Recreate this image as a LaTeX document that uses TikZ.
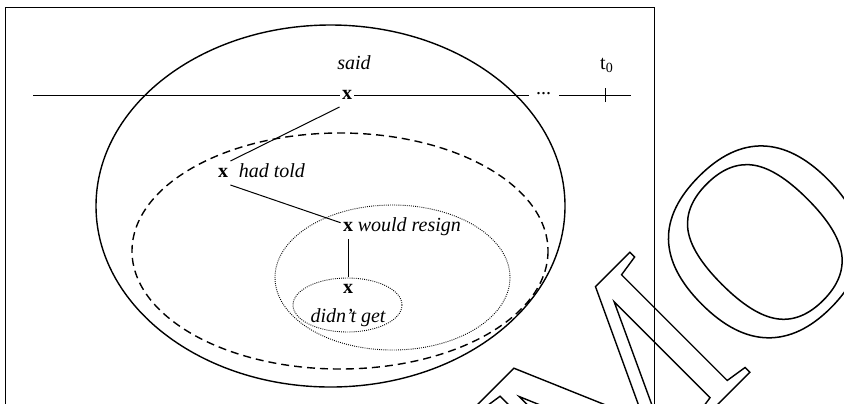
\documentclass[tikz,border=0pt]{standalone}
\usepackage{fontspec}
\setmainfont{Liberation Serif}
\usetikzlibrary{positioning}

% outlined letters (text render mode 1 = stroke only)
\newcommand{\outlinetext}[1]{\special{pdf:code 1 Tr 0.7 w}#1\special{pdf:code 0 Tr}}

\begin{document}
\begin{tikzpicture}[
    x=0.5pt, y=-0.5pt,
    xmark/.style={font=\bfseries, inner xsep=1pt, inner ysep=3.5pt},
    verb/.style={font=\itshape, inner sep=1pt},
    stamp/.style={rotate=45, inner sep=0, font=\fontsize{129.5}{130}\selectfont},
    oval/.style={line width=0.7pt},
    dashoval/.style={line width=0.7pt, dash pattern=on 4pt off 2.5pt},
    dotoval/.style={line width=0.45pt, dash pattern=on 0.45pt off 0.6pt},
    thin line/.style={line width=0.5pt}
]
\useasboundingbox (0,0) rectangle (844,403);
\clip (0,0) rectangle (844,403);

% Watermark
\node[stamp, anchor=base west] (stampM) at (592,530) {\outlinetext{M}};
\node[stamp, scale=1.07] (stampO) at (765,242) {\outlinetext{O}};

% Frame
\draw[thin line] (5,7) rectangle (654,440);

% Nested domains
\draw[oval] (330.5,206) ellipse [x radius=234.5, y radius=181];
\draw[dashoval] (340,251) ellipse [x radius=208, y radius=118];
\draw[dotoval] (392.5,277.5) ellipse [x radius=117.5, y radius=72.5];
\draw[dotoval] (347.5,305) ellipse [x radius=54.5, y radius=27];

% Events
\node[xmark] (xsaid) at (347,95) {x};
\node[xmark] (xtold) at (223,173) {x};
\node[xmark] (xresign) at (348,227) {x};
\node[xmark] (xget) at (348,289) {x};

% Verbs
\node[verb, above=5.5pt of xsaid, xshift=3.5pt] (said) {said};
\node[verb, base right=3pt of xtold] (told) {had told};
\node[verb, base right=0pt of xresign] (resign) {would resign};
\node[verb, below=2.5pt of xget] (get) {didn’t get};

% Time line
\coordinate (lineL) at (33,95);
\coordinate (dotsL) at (529,95);
\coordinate (dotsR) at (559,95);
\coordinate (lineR) at (631,95);
\coordinate (tick) at (605,95);
\node[inner sep=0, anchor=base] (dots) at (543.5,94) {...};
\node[inner sep=0] (tnow) at (607,65) {t\textsubscript{0}};

\draw[thin line] (lineL) -- (xsaid) -- (dotsL);
\draw[thin line] (dotsR) -- (lineR);
\draw[thin line] ([yshift=-3.5pt]tick) -- ([yshift=3.5pt]tick);

% Links
\draw[thin line] (xsaid.south west) -- (xtold.north east);
\draw[thin line] (xtold.south east) -- (xresign.150);
\draw[thin line] (xresign.south) -- (xget.north);

\end{tikzpicture}
\end{document}
